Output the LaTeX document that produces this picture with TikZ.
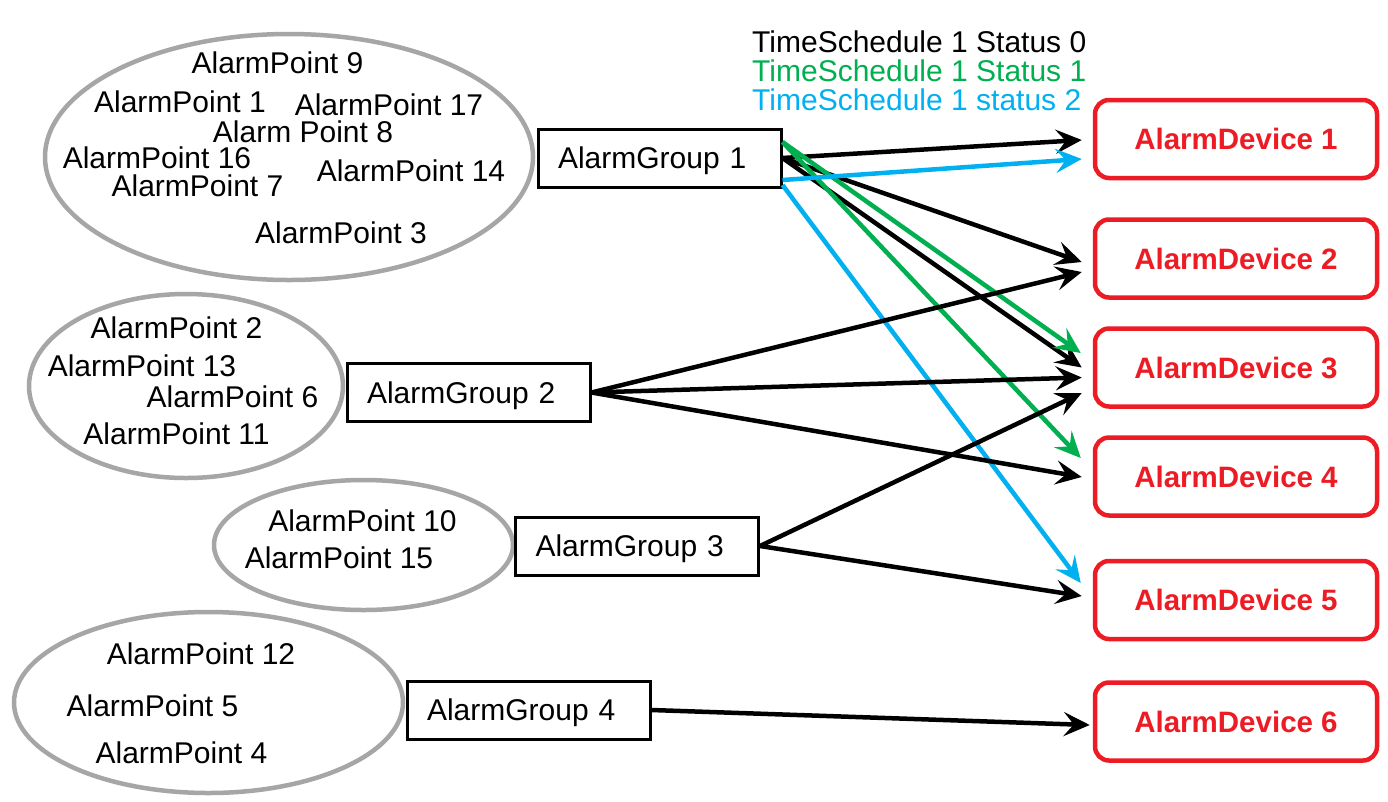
\documentclass[tikz,border=0pt]{standalone}
\usepackage{fontspec}
\setmainfont{Liberation Sans}
\usetikzlibrary{arrows.meta,shapes.geometric,calc}
\definecolor{tsgreen}{HTML}{00B050}
\definecolor{tsblue}{HTML}{00B0F0}
\definecolor{devred}{HTML}{ED1C24}
\definecolor{ellgray}{HTML}{A6A6A6}
\tikzset{
  ptfont/.style={font=\fontsize{30}{36}\selectfont},
  pointlabel/.style={ptfont, inner sep=0pt},
  legendlabel/.style={ptfont, inner sep=0pt, anchor=west},
  pointset/.style={ellipse, draw=ellgray, line width=4.5pt, inner sep=0pt},
  groupbox/.style={draw=black, line width=3pt, ptfont, text width=203pt, align=left,
    inner xsep=20pt, inner ysep=0pt, minimum height=58pt, text height=21.5pt, text depth=0pt},
  devbox/.style={draw=devred, line width=4.5pt, rounded corners=14pt, text=devred,
    font=\fontsize{29.5}{35}\selectfont\bfseries, minimum width=282pt, minimum height=78pt, inner sep=0pt},
  conn/.style={line width=4.5pt, -{Stealth[length=26pt,width=24pt,inset=10pt]}},
}
\begin{document}
\begin{tikzpicture}[x=1pt,y=-1pt]
\useasboundingbox (0,0) rectangle (1388,801);
\fill[white] (0,0) rectangle (1388,801);

% ellipses
\node[pointset, minimum width=488pt, minimum height=246pt] (e1) at (289,157) {};
\node[pointset, minimum width=314pt, minimum height=184pt] (e2) at (186,386) {};
\node[pointset, minimum width=299pt, minimum height=130pt] (e3) at (363.5,545) {};
\node[pointset, minimum width=389pt, minimum height=181pt] (e4) at (208.5,702.5) {};

% alarm points
\node[pointlabel] (p9)  at (277.5,63) {AlarmPoint 9};
\node[pointlabel] (p1)  at (180,102) {AlarmPoint 1};
\node[pointlabel] (p17) at (389,105) {AlarmPoint 17};
\node[pointlabel] (p8)  at (303,132) {Alarm Point 8};
\node[pointlabel] (p16) at (157,158) {AlarmPoint 16};
\node[pointlabel] (p7)  at (197.5,186) {AlarmPoint 7};
\node[pointlabel] (p14) at (411,171) {AlarmPoint 14};
\node[pointlabel] (p3)  at (341,233) {AlarmPoint 3};

\node[pointlabel] (p2)  at (176.5,328) {AlarmPoint 2};
\node[pointlabel] (p13) at (142,366) {AlarmPoint 13};
\node[pointlabel] (p6)  at (232.5,397) {AlarmPoint 6};
\node[pointlabel] (p11) at (176.5,434) {AlarmPoint 11};

\node[pointlabel] (p10) at (362.5,521) {AlarmPoint 10};
\node[pointlabel] (p15) at (339,558) {AlarmPoint 15};

\node[pointlabel] (p12) at (201,654) {AlarmPoint 12};
\node[pointlabel] (p5)  at (152.5,706) {AlarmPoint 5};
\node[pointlabel] (p4)  at (181.5,753) {AlarmPoint 4};

% legend
\node[legendlabel] (l0) at (752,42) {TimeSchedule 1 Status 0};
\node[legendlabel, text=tsgreen] (l1) at (752,71) {TimeSchedule 1 Status 1};
\node[legendlabel, text=tsblue] (l2) at (752,100) {TimeSchedule 1 status 2};

% groups
\node[groupbox] (g1) at (659.5,158) {AlarmGroup 1};
\node[groupbox] (g2) at (468.5,392.5) {AlarmGroup 2};
\node[groupbox] (g3) at (637,546) {AlarmGroup 3};
\node[groupbox] (g4) at (528.5,710) {AlarmGroup 4};

% devices
\node[devbox] (d1) at (1236,139) {AlarmDevice 1};
\node[devbox] (d2) at (1236,258.5) {AlarmDevice 2};
\node[devbox] (d3) at (1236,367.5) {AlarmDevice 3};
\node[devbox] (d4) at (1236,476.5) {AlarmDevice 4};
\node[devbox] (d5) at (1236,600) {AlarmDevice 5};
\node[devbox] (d6) at (1236,721.5) {AlarmDevice 6};

% connectors from group 1
\draw[conn] (g1.east) -- ($(d1.west)+(-11,1)$);
\draw[conn] (g1.east) -- ($(d2.west)+(-11,3.5)$);
\draw[conn] (g1.east) -- ($(d3.west)+(-11,0)$);
\draw[conn, draw=tsgreen, fill=tsgreen] ([yshift=16pt]g1.east) -- ($(d3.west)+(-12,-14.5)$);
\draw[conn, draw=tsgreen, fill=tsgreen] ([yshift=16pt]g1.east) -- ($(d4.west)+(-12,-18.5)$);
\draw[conn, draw=tsblue, fill=tsblue] ([yshift=-22pt]g1.east) -- ($(d1.west)+(-11,20)$);
\draw[conn, draw=tsblue, fill=tsblue] ([yshift=-27pt]g1.east) -- ($(d5.west)+(-12,-17)$);

% group 2
\draw[conn] (g2.east) -- ($(d2.west)+(-11,13.5)$);
\draw[conn] (g2.east) -- ($(d3.west)+(-11,10)$);
\draw[conn] (g2.east) -- ($(d4.west)+(-11,0.5)$);

% group 3
\draw[conn] (g3.east) -- ($(d3.west)+(-11,25.5)$);
\draw[conn] (g3.east) -- ($(d5.west)+(-11,-4)$);

% group 4
\draw[conn] (g4.east) -- ($(d6.west)+(-3,3.5)$);
\end{tikzpicture}
\end{document}
